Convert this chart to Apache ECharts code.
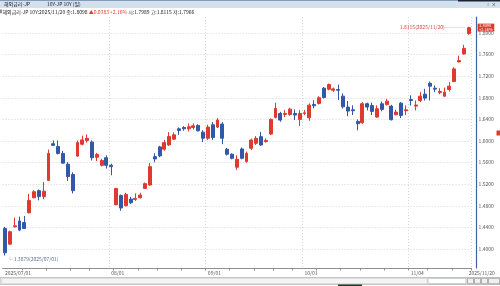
<!DOCTYPE html>
<html><head><meta charset="utf-8">
<script src="https://cdn.jsdelivr.net/npm/echarts@6/dist/echarts.min.js"></script>
<style>html,body{margin:0;padding:0;background:#fff}#c{width:500px;height:286px}</style>
</head><body><div id="c"></div>
<script>
const dates = [
'2025/07/01','2025/07/02','2025/07/03','2025/07/04','2025/07/07','2025/07/08','2025/07/09','2025/07/10','2025/07/11',
'2025/07/14','2025/07/15','2025/07/16','2025/07/17','2025/07/18','2025/07/22','2025/07/23','2025/07/24','2025/07/25',
'2025/07/28','2025/07/29','2025/07/30','2025/07/31',
'2025/08/01','2025/08/04','2025/08/05','2025/08/06','2025/08/07','2025/08/08','2025/08/12','2025/08/13','2025/08/14',
'2025/08/15','2025/08/18','2025/08/19','2025/08/20','2025/08/21','2025/08/22','2025/08/25','2025/08/26','2025/08/27',
'2025/08/28','2025/08/29',
'2025/09/01','2025/09/02','2025/09/03','2025/09/04','2025/09/05','2025/09/08','2025/09/09','2025/09/10','2025/09/11',
'2025/09/12','2025/09/16','2025/09/17','2025/09/18','2025/09/19','2025/09/22','2025/09/24','2025/09/25','2025/09/26',
'2025/09/29','2025/09/30',
'2025/10/01','2025/10/02','2025/10/03','2025/10/06','2025/10/07','2025/10/08','2025/10/09','2025/10/10','2025/10/14',
'2025/10/15','2025/10/16','2025/10/17','2025/10/20','2025/10/21','2025/10/22','2025/10/23','2025/10/24','2025/10/27',
'2025/10/28','2025/10/29','2025/10/30','2025/10/31',
'2025/11/04','2025/11/05','2025/11/06','2025/11/07','2025/11/10','2025/11/11','2025/11/12','2025/11/13','2025/11/14',
'2025/11/17','2025/11/18','2025/11/19','2025/11/20'];

const opens = [
1.438,1.409,1.441,1.452,1.449,1.467,1.495,1.508,1.497,1.527,1.595,1.590,1.577,1.557,1.538,1.572,1.594,1.601,1.598,1.570,1.555,1.569,
1.555,1.482,1.499,1.480,1.4924,1.4918,1.4949,1.5122,1.5184,1.571,1.589,1.5848,1.5928,1.6034,1.6226,1.625,1.6226,1.625,1.6288,1.6164,
1.6052,1.630,1.6257,1.6313,1.5848,1.5755,1.5514,1.5852,1.5618,1.5865,1.5957,1.608,1.5988,1.6129,1.6436,1.651,1.6492,1.6492,1.651,1.640,
1.651,1.643,1.6676,1.6695,1.6977,1.6959,1.694,1.6953,1.683,1.6628,1.6578,1.6363,1.6338,1.669,1.6658,1.6443,1.6689,1.6677,1.6646,1.6486,1.6701,1.656,
1.6769,1.6646,1.675,1.6867,1.707,1.6978,1.6898,1.683,1.6954,1.7101,1.7464,1.7612,1.7989];
const closes = [
1.393,1.432,1.443,1.435,1.438,1.490,1.506,1.497,1.507,1.577,1.592,1.577,1.559,1.534,1.508,1.597,1.602,1.605,1.569,1.575,1.564,1.555,
1.5525,1.512,1.476,1.501,1.4856,1.4936,1.4998,1.521,1.5525,1.5668,1.5724,1.597,1.6083,1.6114,1.6195,1.6226,1.6263,1.628,1.6189,1.6052,
1.6257,1.6065,1.6387,1.6052,1.5755,1.568,1.5662,1.568,1.5772,1.6018,1.6049,1.5926,1.6012,1.640,1.6602,1.6387,1.651,1.659,1.648,1.651,
1.6523,1.6664,1.6652,1.680,1.6805,1.7045,1.6965,1.694,1.6633,1.6554,1.656,1.632,1.669,1.6628,1.6548,1.6597,1.6585,1.6738,1.6394,1.6535,1.6474,1.6578,
1.675,1.6665,1.683,1.6794,1.7015,1.696,1.6917,1.6904,1.7015,1.7335,1.7489,1.7715,1.8098];
const lows = [
1.3879,1.408,1.440,1.433,1.437,1.466,1.494,1.490,1.492,1.526,1.591,1.575,1.558,1.526,1.503,1.571,1.592,1.597,1.564,1.563,1.553,1.549,
1.5365,1.481,1.4707,1.479,1.483,1.489,1.4936,1.511,1.517,1.5606,1.570,1.582,1.591,1.602,1.6114,1.619,1.6176,1.621,1.6176,1.598,
1.602,1.602,1.624,1.594,1.573,1.566,1.5465,1.566,1.560,1.583,1.5926,1.591,1.597,1.611,1.6418,1.6356,1.6443,1.6468,1.6387,1.6277,
1.648,1.6375,1.6602,1.6676,1.6787,1.694,1.691,1.6756,1.6602,1.646,1.648,1.6197,1.632,1.6566,1.648,1.643,1.655,1.6658,1.638,1.6474,1.6425,1.648,
1.6658,1.6566,1.672,1.675,1.675,1.6904,1.6867,1.6812,1.6916,1.7089,1.7458,1.760,1.7966];
const highs = [
1.441,1.434,1.458,1.460,1.461,1.502,1.509,1.510,1.524,1.584,1.601,1.601,1.582,1.561,1.542,1.601,1.610,1.612,1.601,1.578,1.567,1.5735,
1.558,1.513,1.501,1.504,1.4967,1.503,1.504,1.523,1.559,1.5773,1.591,1.602,1.6164,1.616,1.625,1.6275,1.6325,1.6325,1.631,1.620,
1.630,1.635,1.6424,1.635,1.587,1.577,1.5735,1.588,1.5803,1.6043,1.609,1.617,1.6049,1.6418,1.6707,1.654,1.6571,1.6615,1.6584,1.6571,
1.6571,1.6695,1.6756,1.683,1.700,1.7064,1.699,1.7045,1.688,1.674,1.666,1.640,1.672,1.671,1.671,1.666,1.673,1.678,1.667,1.658,1.672,1.6658,
1.6843,1.675,1.6904,1.6966,1.710,1.7027,1.6978,1.699,1.7089,1.7366,1.758,1.778,1.8115];

const yTicks = [1.40,1.44,1.48,1.52,1.56,1.60,1.64,1.68,1.72,1.76,1.80];

const RED = '#df3a2f', BLUE = '#3458a8';
const FONT = '"Noto Sans CJK KR", "DejaVu Sans", sans-serif';
const fmt = v => v.toFixed(4);
const ohlc = dates.map((d, i) => [opens[i], closes[i], lows[i], highs[i]]);
const last = dates.length - 1;
const chg = closes[last] - closes[last - 1];
const pct = chg / closes[last - 1] * 100;
let lowIdx = 0, hiIdx = 0;
lows.forEach((v, i) => { if (v < lows[lowIdx]) lowIdx = i; });
highs.forEach((v, i) => { if (v > highs[hiIdx]) hiIdx = i; });

const dObj = s => new Date(s.replace(/\//g, '-') + 'T00:00:00');
const isMonthStart = i => i > 0 && dates[i].slice(5, 7) !== dates[i - 1].slice(5, 7);
const isWeekStart = i => i > 0 && (dObj(dates[i]).getDay() <= dObj(dates[i - 1]).getDay() || (dObj(dates[i]) - dObj(dates[i - 1])) > 3 * 864e5);

const chart = echarts.init(document.getElementById('c'), null, {renderer: 'canvas'});
chart.setOption({
  animation: false,
  backgroundColor: '#fff',
  textStyle: {fontFamily: FONT},
  grid: {left: 2.6, right: 28.9, top: 17, bottom: 18},
  xAxis: {
    type: 'category', data: dates, boundaryGap: true,
    axisLine: {lineStyle: {color: '#8f8f8f', width: 1}},
    axisTick: {show: true, length: 2.5, lineStyle: {color: '#8f8f8f'}, interval: (i) => isWeekStart(i)},
    axisLabel: {
      interval: (i) => i === 0 || i === last || isMonthStart(i),
      formatter: (v, i) => (i === 0 || i === last) ? v : v.slice(5),
      fontSize: 5, color: '#555', align: 'left', margin: 3, fontFamily: FONT
    },
    splitLine: {show: true, interval: (i) => isMonthStart(i), lineStyle: {color: '#d6d6d6', type: [1, 2], width: 1}}
  },
  yAxis: {
    type: 'value', position: 'right', offset: 5, scale: true,
    min: 1.3648, max: 1.8296,
    axisLine: {show: true, lineStyle: {color: '#3e62a3', width: 1.2}},
    axisTick: {show: false, customValues: yTicks},
    axisLabel: {customValues: yTicks, formatter: v => fmt(v), fontSize: 5, color: '#555', margin: 2.5, fontFamily: FONT},
    splitLine: {show: true, lineStyle: {color: '#d6d6d6', type: [1, 2], width: 1}}
  },
  series: [{
    type: 'candlestick', data: ohlc, barWidth: 3.4,
    itemStyle: {color: RED, color0: BLUE, borderColor: RED, borderColor0: BLUE, borderWidth: 1},
    markPoint: {
      symbol: 'circle', symbolSize: 0.1, silent: true,
      data: [
        {coord: [lowIdx, lows[lowIdx]], itemStyle: {color: 'transparent'},
         label: {show: true, position: 'right', offset: [-2.5, 4], formatter: '└ ' + fmt(lows[lowIdx]) + '(' + dates[lowIdx] + ')',
                 fontSize: 5, color: '#5b6e90', fontFamily: FONT}},
        {coord: [hiIdx, highs[hiIdx]], itemStyle: {color: 'transparent'},
         label: {show: true, position: 'left', offset: [1, 0], formatter: fmt(highs[hiIdx]) + '(' + dates[hiIdx] + ')────',
                 fontSize: 5, color: RED, fontFamily: FONT}}
      ]
    },
    markLine: {
      symbol: 'none', silent: true,
      lineStyle: {color: 'rgba(0,0,0,0)', width: 0.1},
      data: [{yAxis: closes[last]}],
      label: {show: true, position: 'end', distance: 6.5,
        formatter: fmt(closes[last]) + '\n' + (chg >= 0 ? '+' : '') + pct.toFixed(2) + '%',
        backgroundColor: RED, color: '#fff', fontSize: 4, lineHeight: 3.8, padding: [0.3, 1.5, 0, 1.5], fontFamily: FONT}
    }
  }],
  graphic: [
    {type: 'rect', shape: {x: 0, y: 0, width: 500, height: 8}, style: {fill: '#d4e0ee'}, silent: true},
    {type: 'rect', shape: {x: 0, y: 0, width: 500, height: 0.8}, style: {fill: '#6b84a8'}, silent: true},
    {type: 'rect', shape: {x: 458, y: 0, width: 42, height: 1.6}, style: {fill: '#1b2233'}, silent: true},
    {type: 'text', left: 4, top: 1.6, style: {text: '해외금리-JP', fontSize: 5, fill: '#222', fontFamily: FONT}},
    {type: 'text', left: 47, top: 1.6, style: {text: '10Y-JP 10Y (일)', fontSize: 5, fill: '#222', fontFamily: FONT}},
    {type: 'text', left: 486, top: 2, style: {text: '▫ ×', fontSize: 4.5, fill: '#333', fontFamily: FONT}},
    {type: 'rect', shape: {x: 0.5, y: 9.6, width: 1, height: 3.6}, style: {fill: '#222'}, silent: true},
    {type: 'text', left: 2.5, top: 9.2, style: {
      text: '{k|해외금리-JP 10Y:' + dates[last] + ' 종:' + fmt(closes[last]) + ' }{r|▲' + fmt(Math.abs(chg)) + ' +' + pct.toFixed(2) + '%}{k| 시:' + fmt(opens[last]) + ' 고:' + fmt(highs[last]) + ' 저:' + fmt(lows[last]) + '}',
      rich: {k: {fontSize: 5, fill: '#222', fontFamily: FONT}, r: {fontSize: 5, fill: RED, fontFamily: FONT}}
    }},
    {type: 'rect', shape: {x: 0, y: 277.5, width: 500, height: 7}, style: {fill: '#e8e8e8', stroke: '#b9b9b9', lineWidth: 0.8}, silent: true},
    {type: 'rect', shape: {x: 2, y: 278.5, width: 425, height: 5}, style: {fill: '#f4f4f4', stroke: '#cfcfcf', lineWidth: 0.5}, silent: true},
    {type: 'rect', shape: {x: 338, y: 284.5, width: 24, height: 1.5}, style: {fill: '#1d3b22'}, silent: true},
    {type: 'rect', shape: {x: 428, y: 278.3, width: 38, height: 5.4}, style: {fill: '#fff', stroke: '#9aa', lineWidth: 0.6}, silent: true},
    {type: 'rect', shape: {x: 467.5, y: 278.3, width: 6, height: 5.4}, style: {fill: '#f0f0f0', stroke: '#888', lineWidth: 0.6}, silent: true},
    {type: 'rect', shape: {x: 474.5, y: 278.3, width: 6, height: 5.4}, style: {fill: '#f0f0f0', stroke: '#888', lineWidth: 0.6}, silent: true},
    {type: 'rect', shape: {x: 481.5, y: 278.3, width: 6, height: 5.4}, style: {fill: '#f0f0f0', stroke: '#888', lineWidth: 0.6}, silent: true},
    {type: 'rect', shape: {x: 488.5, y: 278.3, width: 11, height: 5.4}, style: {fill: '#f0f0f0', stroke: '#888', lineWidth: 0.6}, silent: true},
    {type: 'rect', shape: {x: 496.5, y: 130.5, width: 3.5, height: 5}, style: {fill: RED}, silent: true}
  ]
});
</script></body></html>
